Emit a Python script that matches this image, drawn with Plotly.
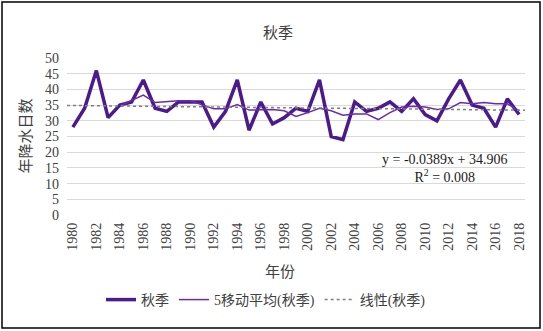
import numpy as np
import pandas as pd
import plotly.graph_objects as go

years = list(range(1980, 2019))
values = [28, 34, 46, 31, 35, 36, 43, 34, 33, 36,
          36, 36, 28, 33, 43, 27, 36, 29, 31, 34,
          33, 43, 25, 24, 36, 33, 34, 36, 33, 37,
          32, 30, 37, 43, 35, 34, 28, 37, 32]
tick_years = [str(y) for y in range(1980, 2019, 2)]

series_name = "秋季"
ma_name = "5移动平均(秋季)"
trend_name = "线性(秋季)"

ma = pd.Series(values).rolling(5).mean().tolist()
idx = np.arange(1, len(values) + 1)
slope, intercept = np.polyfit(idx, values, 1)
trend_x = [1979.5, 2018.5]
trend_y = [slope * (x - 1979) + intercept for x in trend_x]

FONT = "Liberation Serif, Times New Roman, Noto Sans CJK SC, serif"
TXT = "#404040"

fig = go.Figure()
fig.add_trace(go.Scatter(x=years, y=values, mode="lines", name=series_name,
                         line=dict(color="#4b1a8c", width=3.5)))
fig.add_trace(go.Scatter(x=years, y=ma, mode="lines", name=ma_name,
                         line=dict(color="#6a2bb0", width=1.5)))
fig.add_trace(go.Scatter(x=trend_x, y=trend_y, mode="lines", name=trend_name,
                         line=dict(color="#7f7f7f", width=1.5, dash="dot")))

L, R, T, B = 67, 525, 58, 215
W, H = R - L, B - T

def px(x):
    return (x - L) / W

def py(y):
    return (B - y) / H

fig.update_layout(
    width=543, height=331,
    margin=dict(l=L, r=543 - R, t=T, b=331 - B, autoexpand=False),
    paper_bgcolor="white", plot_bgcolor="white",
    font=dict(family=FONT, size=14, color=TXT),
    title=dict(text="秋季", x=px(278), xanchor="center", xref="paper",
               y=1 - 33 / 331, yanchor="middle", font=dict(size=15, color=TXT)),
    xaxis=dict(range=[1979.5, 2018.5], tickmode="array",
               tickvals=list(range(1980, 2019, 2)), ticktext=tick_years,
               tickangle=-90, showgrid=False, zeroline=False, showline=False,
               ticks="", tickfont=dict(size=14, color=TXT), automargin=False,
               ticklabelstandoff=4),
    yaxis=dict(range=[0, 50], dtick=5, showgrid=True, gridcolor="#d9d9d9",
               gridwidth=1, zeroline=False, showline=False, ticks="",
               tickfont=dict(size=14, color=TXT), automargin=False,
               ticklabelstandoff=7),
    legend=dict(orientation="h", x=px(266), xanchor="center", y=py(284),
                yanchor="top", font=dict(size=14, color=TXT),
                bgcolor="rgba(0,0,0,0)", itemwidth=30, tracegroupgap=0),
    showlegend=True,
    annotations=[
        dict(text="年降水日数", xref="paper", yref="paper", x=px(25), y=py(136.5),
             xanchor="center", yanchor="middle", textangle=-90, showarrow=False,
             font=dict(size=15, color=TXT)),
        dict(text="年份", xref="paper", yref="paper", x=px(280), y=py(272),
             xanchor="center", yanchor="middle", showarrow=False,
             font=dict(size=15, color=TXT)),
        dict(text="y = -0.0389x + 34.906<br>R<sup>2</sup> = 0.008", xref="paper", yref="paper",
             x=px(444), y=py(168), xanchor="center", yanchor="middle", showarrow=False,
             align="center", font=dict(size=14, color="#1a1a1a")),
    ],
    shapes=[
        dict(type="rect", xref="paper", yref="paper",
             x0=px(2), x1=px(540), y0=py(328), y1=py(2),
             line=dict(color="#000000", width=1.5), fillcolor="rgba(0,0,0,0)", layer="above"),
    ],
)

fig.write_html("out.html",
               config={"displayModeBar": False},
               post_script="document.body.style.margin='0';document.body.style.overflow='hidden';")
